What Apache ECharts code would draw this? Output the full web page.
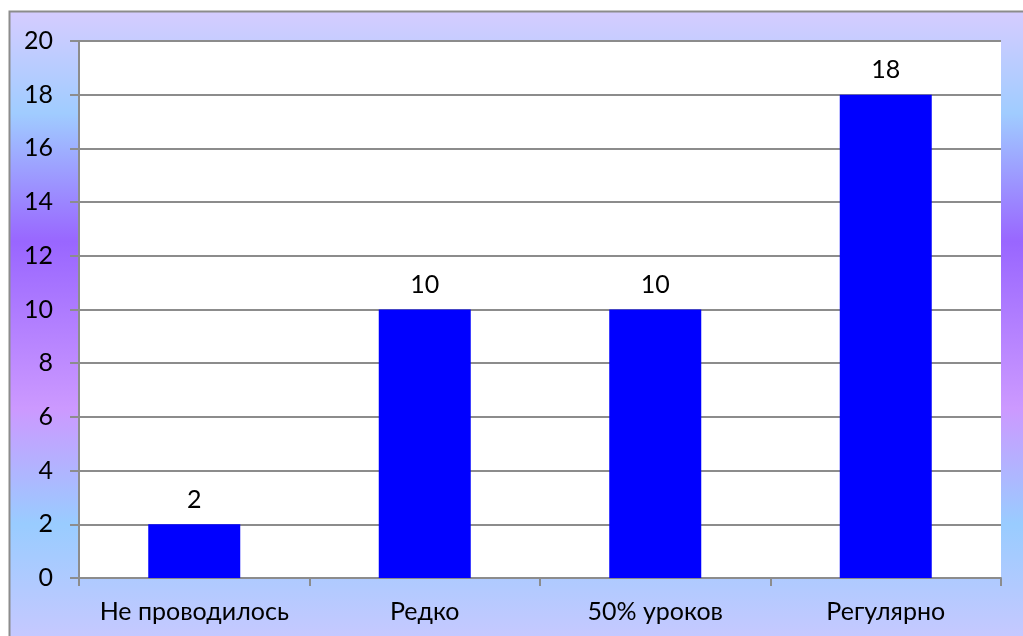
<!DOCTYPE html>
<html><head><meta charset="utf-8">
<script src="https://cdn.jsdelivr.net/npm/echarts@6/dist/echarts.min.js"></script>
<style>html,body{margin:0;padding:0;background:#fff}#c{width:1023px;height:636px}</style>
</head><body><div id="c"></div>
<script>
const categories = ['Не проводилось', 'Редко', '50% уроков', 'Регулярно'];
const values = [2, 10, 10, 18];
const yTicks = [0, 2, 4, 6, 8, 10, 12, 14, 16, 18, 20];

const chart = echarts.init(document.getElementById('c'));
const font = 'Lato, "Open Sans", sans-serif';
chart.setOption({
  animation: false,
  backgroundColor: '#ffffff',
  graphic: [{
    type: 'rect', z: -10, silent: true,
    shape: { x: 9.5, y: 11.5, width: 1030, height: 640 },
    style: {
      fill: new echarts.graphic.LinearGradient(0, 0, 0, 1, [
        { offset: 0, color: '#d6ccff' },
        { offset: 0.16, color: '#a0ccff' },
        { offset: 0.36, color: '#9966ff' },
        { offset: 0.62, color: '#cc99ff' },
        { offset: 0.80, color: '#99ccff' },
        { offset: 1, color: '#ccc8ff' }
      ]),
      stroke: '#8c8c8c', lineWidth: 2
    }
  }, {
    type: 'rect', z: -9, silent: true,
    shape: { x: 79, y: 41, width: 922, height: 537 },
    style: { fill: '#ffffff' }
  }],
  grid: { left: 79, top: 41, right: 22, bottom: 58, containLabel: false },
  xAxis: {
    type: 'category', data: categories,
    axisLine: { lineStyle: { color: '#8c8c8c', width: 2 } },
    axisTick: { show: true, interval: 0, length: 8, lineStyle: { color: '#8c8c8c', width: 2 } },
    axisLabel: { color: '#000', fontSize: 25, fontFamily: font, margin: 21, interval: 0 }
  },
  yAxis: {
    type: 'value', min: 0, max: 20, interval: 2,
    axisLine: { show: true, lineStyle: { color: '#8c8c8c', width: 2 } },
    axisTick: { show: true, length: 9, lineStyle: { color: '#8c8c8c', width: 2 } },
    splitLine: { lineStyle: { color: '#8c8c8c', width: 2 } },
    axisLabel: { color: '#000', fontSize: 25, fontFamily: font, margin: 26,
      formatter: v => yTicks.includes(v) ? String(v) : '' }
  },
  series: [{
    type: 'bar', data: values, barWidth: 92,
    itemStyle: { color: '#0000ff' },
    label: { show: true, position: 'top', distance: 12, color: '#000', fontSize: 25, fontFamily: font }
  }]
});
</script></body></html>
